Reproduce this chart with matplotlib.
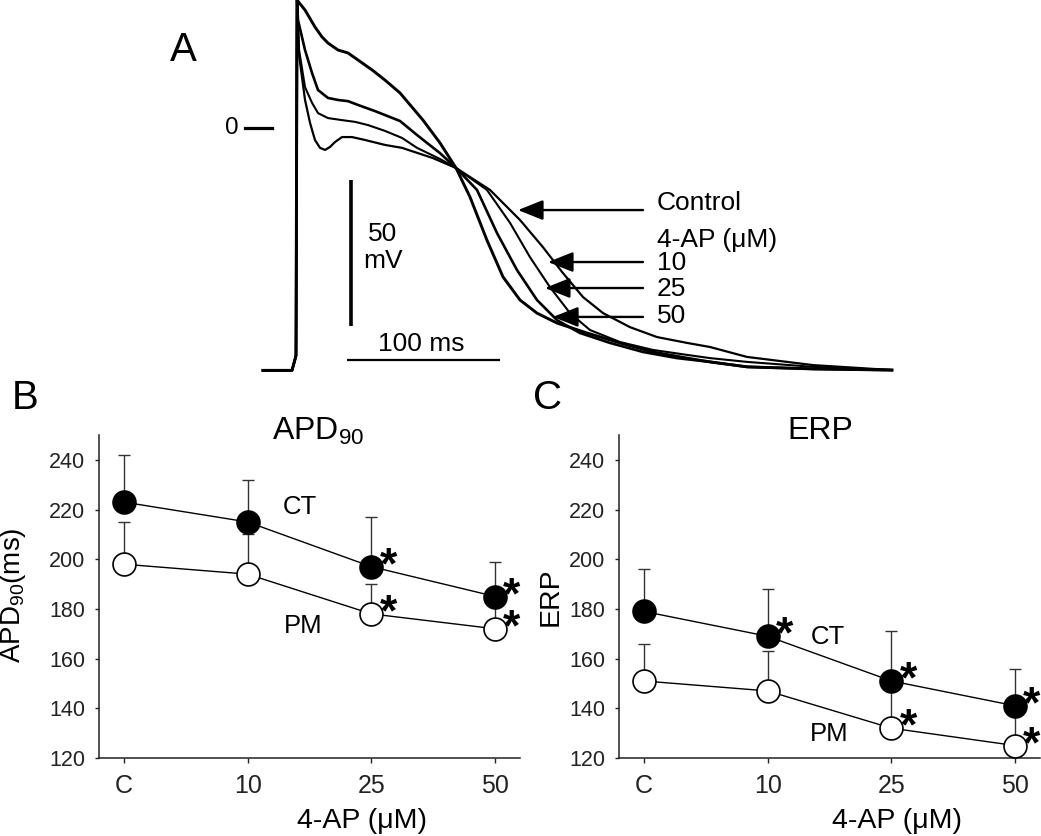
import matplotlib
matplotlib.use('Agg')
import matplotlib.pyplot as plt

plt.rcParams['font.family'] = ['Liberation Sans', 'DejaVu Sans']
plt.rcParams['mathtext.fontset'] = 'custom'
plt.rcParams['mathtext.rm'] = 'Liberation Sans'
plt.rcParams['mathtext.it'] = 'Liberation Sans:italic'
plt.rcParams['mathtext.bf'] = 'Liberation Sans:bold'

# ---------------- Panel A: action potentials (time in ms, Vm in mV) -------------
t_50 = [-21.6, -2.6, -1.3, 0.0, 0.7, 5.9, 12.4, 17.0, 20.9, 27.5, 34.0, 40.5, 49.7, 58.2, 68.0,
        83.0, 94.1, 104.6, 113.7, 124.8, 135.3, 146.4, 157.5, 170.6, 190.2, 211.8, 233.3,
        255.6, 270.6, 294.8, 337.9, 389.5]
v_50 = [-83.0, -83.0, -80.5, -78.0, 43.8, 40.4, 34.6, 31.2, 29.1, 26.7, 25.7, 23.3, 19.9, 16.4, 12.0,
        2.7, -5.1, -13.7, -23.6, -38.4, -51.0, -58.9, -63.4, -66.8, -70.2, -73.6, -76.7,
        -78.8, -80.1, -81.8, -82.5, -82.9]

t_25 = [-21.6, -2.6, -1.3, 0.0, 0.7, 1.3, 5.9, 10.5, 14.4, 20.9, 27.5, 34.0, 40.5, 51.6, 68.0,
        79.1, 94.1, 104.6, 118.3, 131.4, 144.4, 157.5, 170.6, 185.6, 205.2, 226.8, 249.0,
        270.6, 294.8, 337.9, 389.5]
v_25 = [-83.0, -83.0, -80.5, -78.0, 43.8, 37.0, 26.7, 18.8, 13.0, 10.3, 9.6, 9.2, 7.9, 5.8, 2.4,
        -2.4, -8.6, -13.7, -21.2, -36.0, -48.6, -58.9, -65.8, -70.2, -73.6, -76.7, -78.8,
        -80.1, -81.8, -82.5, -82.9]

t_10 = [-21.6, -2.6, -1.3, 0.0, 0.7, 2.0, 5.9, 10.5, 14.4, 20.9, 30.1, 38.6, 47.1, 58.2, 69.3,
        79.1, 94.1, 104.6, 124.8, 139.9, 152.9, 166.0, 179.1, 192.2, 211.8, 233.3, 255.6,
        270.6, 294.8, 337.9, 389.5]
v_10 = [-83.0, -83.0, -80.5, -78.0, 43.8, 26.7, 14.0, 8.6, 5.1, 3.4, 2.7, 2.1, 1.0, -1.0, -3.4,
        -6.8, -10.6, -13.7, -21.2, -32.5, -44.2, -54.5, -63.4, -69.2, -73.3, -76.0, -77.7,
        -78.8, -80.1, -81.8, -82.9]

t_ctl = [-21.6, -2.6, -1.3, 0.0, 0.7, 2.0, 5.9, 9.2, 12.4, 15.7, 19.0, 22.2, 25.5, 30.1, 36.6,
         45.1, 58.2, 69.3, 89.5, 104.6, 126.8, 146.4, 161.4, 174.5, 187.6, 200.7, 218.3,
         236.0, 255.6, 270.6, 294.8, 337.9, 389.5]
v_ctl = [-83.0, -83.0, -80.5, -78.0, 43.8, 25.0, 9.6, 1.7, -4.1, -6.8, -7.5, -6.5, -4.8, -3.1, -3.1,
         -4.1, -5.8, -6.8, -10.3, -13.7, -21.2, -31.5, -40.8, -49.7, -57.9, -63.4, -68.2,
         -71.6, -73.6, -75.0, -78.4, -81.2, -82.9]

trace_labels = ['Control', '10', '25', '50']
arrow_tip_t = [145.1, 164.7, 162.7, 168.0]
arrow_tip_v = [-28.1, -45.9, -54.8, -64.7]
arrow_tail_t = 226.8
label_v = [-25.7, -46.2, -55.1, -64.4]

# ---------------- Panels B and C ----------------
conc_labels = ['C', '10', '25', '50']
apd_ct = [223, 215, 197, 185]
apd_ct_err = [19, 17, 20, 14]
apd_pm = [198, 194, 178, 172]
apd_pm_err = [17, 16, 12, 11]
apd_ct_sig = [False, False, True, True]
apd_pm_sig = [False, False, True, True]

erp_ct = [179, 169, 151, 141]
erp_ct_err = [17, 19, 20, 15]
erp_pm = [151, 147, 132, 125]
erp_pm_err = [15, 16, 16, 13]
erp_ct_sig = [False, True, True, True]
erp_pm_sig = [False, False, True, True]

W, H = 1041, 836
fig = plt.figure(figsize=(W / 100, H / 100), dpi=100)


def fx(px):
    return px / W


def fy(py):
    return 1 - py / H


# ----- Panel A -----
axA = fig.add_axes([fx(150), fy(380), fx(850), 380 / H])
axA.set_xlim(-95.42, 460.13)
axA.set_ylim(-86.30, 43.84)
axA.axis('off')
for t, v, lw in [(t_ctl, v_ctl, 1.6), (t_10, v_10, 1.5), (t_25, v_25, 1.9), (t_50, v_50, 2.1)]:
    axA.plot(t, v, color='black', lw=lw, clip_on=False, solid_joinstyle='round')

# zero marker
axA.plot([-33.3, -15.7], [0, 0], color='black', lw=2.3)
axA.text(-37.5, 0, '0', ha='right', va='center', fontsize=17.5)
# scale bars
axA.plot([35.9, 35.9], [-17.8, -67.8], color='black', lw=2.6, solid_capstyle='butt')
axA.plot([33.3, 133.3], [-79.5, -79.5], color='black', lw=1.6, solid_capstyle='butt')
axA.text(56.9, -36.3, '50', ha='center', va='center', fontsize=19)
axA.text(56.9, -45.6, 'mV', ha='center', va='center', fontsize=19)
axA.text(82.0, -74.0, '100 ms', ha='center', va='center', fontsize=19)

for lab, tt, tv, lv in zip(trace_labels, arrow_tip_t, arrow_tip_v, label_v):
    axA.annotate('', xy=(tt, tv), xytext=(arrow_tail_t, tv),
                 arrowprops=dict(arrowstyle='-|>,head_length=0.85,head_width=0.34',
                                 mutation_scale=18, lw=1.7, color='black',
                                 shrinkA=0, shrinkB=0))
    axA.text(236.0, lv, lab, ha='left', va='center', fontsize=19)
axA.text(236.0, -38.4, '4-AP (μM)', ha='left', va='center', fontsize=19)

fig.text(fx(183), fy(50), 'A', ha='center', va='center', fontsize=29)


# ----- Panels B & C -----
def panel(left_px, ct, ct_err, pm, pm_err, ct_sig, pm_sig):
    ax = fig.add_axes([fx(left_px), fy(758), fx(421), 323 / H])
    x = list(range(len(conc_labels)))
    ax.errorbar(x, ct, yerr=[[0] * len(ct), ct_err], fmt='none', ecolor='#333333',
                elinewidth=1.0, capsize=4, capthick=1.0, zorder=1)
    ax.errorbar(x, pm, yerr=[[0] * len(pm), pm_err], fmt='none', ecolor='#333333',
                elinewidth=1.0, capsize=4, capthick=1.0, zorder=1)
    ax.plot(x, ct, '-o', color='black', lw=1.0, ms=16.5, mfc='black', mec='black',
            mew=1.2, zorder=3)
    ax.plot(x, pm, '-o', color='black', lw=1.0, ms=16.5, mfc='white', mec='black',
            mew=1.2, zorder=3)
    for yv, sig in ((ct, ct_sig), (pm, pm_sig)):
        for xi, yi, s in zip(x, yv, sig):
            if s:
                ax.annotate('*', xy=(xi, yi), xytext=(12, 0), textcoords='offset points',
                            ha='center', va='center', fontsize=32, fontweight='bold',
                            zorder=4)
    ax.set_xlim(-0.2, 3.2)
    ax.set_ylim(120, 250)
    ax.set_xticks(x)
    ax.set_xticklabels(conc_labels)
    ax.set_yticks(range(120, 241, 20))
    for s in ['top', 'right']:
        ax.spines[s].set_visible(False)
    for s in ['left', 'bottom']:
        ax.spines[s].set_linewidth(1.1)
        ax.spines[s].set_color('#222222')
    ax.tick_params(axis='y', labelsize=15.5, length=3, width=1.0, pad=7, colors='#222222')
    ax.tick_params(axis='x', labelsize=18, length=3.5, width=1.0, pad=8, colors='#222222')
    ax.patch.set_alpha(0)
    return ax


axB = panel(99, apd_ct, apd_ct_err, apd_pm, apd_pm_err, apd_ct_sig, apd_pm_sig)
axB.text(1.42, 220.9, 'CT', ha='center', va='center', fontsize=18.5)
axB.text(1.45, 173.1, 'PM', ha='center', va='center', fontsize=18.5)

axC = panel(619, erp_ct, erp_ct_err, erp_pm, erp_pm_err, erp_ct_sig, erp_pm_sig)
axC.text(1.49, 168.6, 'CT', ha='center', va='center', fontsize=18.5)
axC.text(1.50, 129.8, 'PM', ha='center', va='center', fontsize=18.5)

fig.text(fx(318), fy(440), r'APD$_{\mathrm{90}}$', ha='center', va='baseline', fontsize=23)
fig.text(fx(820), fy(439), 'ERP', ha='center', va='baseline', fontsize=23)
fig.text(fx(362), fy(828), '4-AP (μM)', ha='center', va='baseline', fontsize=20.5)
fig.text(fx(897), fy(828), '4-AP (μM)', ha='center', va='baseline', fontsize=20.5)
fig.text(fx(13), fy(595), r'APD$_{\mathrm{90}}$(ms)', rotation=90, ha='center', va='center',
         fontsize=20)
fig.text(fx(551), fy(597), 'ERP', rotation=90, ha='center', va='center', fontsize=20.5)
fig.text(fx(25), fy(398), 'B', ha='center', va='center', fontsize=29)
fig.text(fx(548), fy(398), 'C', ha='center', va='center', fontsize=29)

fig.savefig('out.png', dpi=100)
